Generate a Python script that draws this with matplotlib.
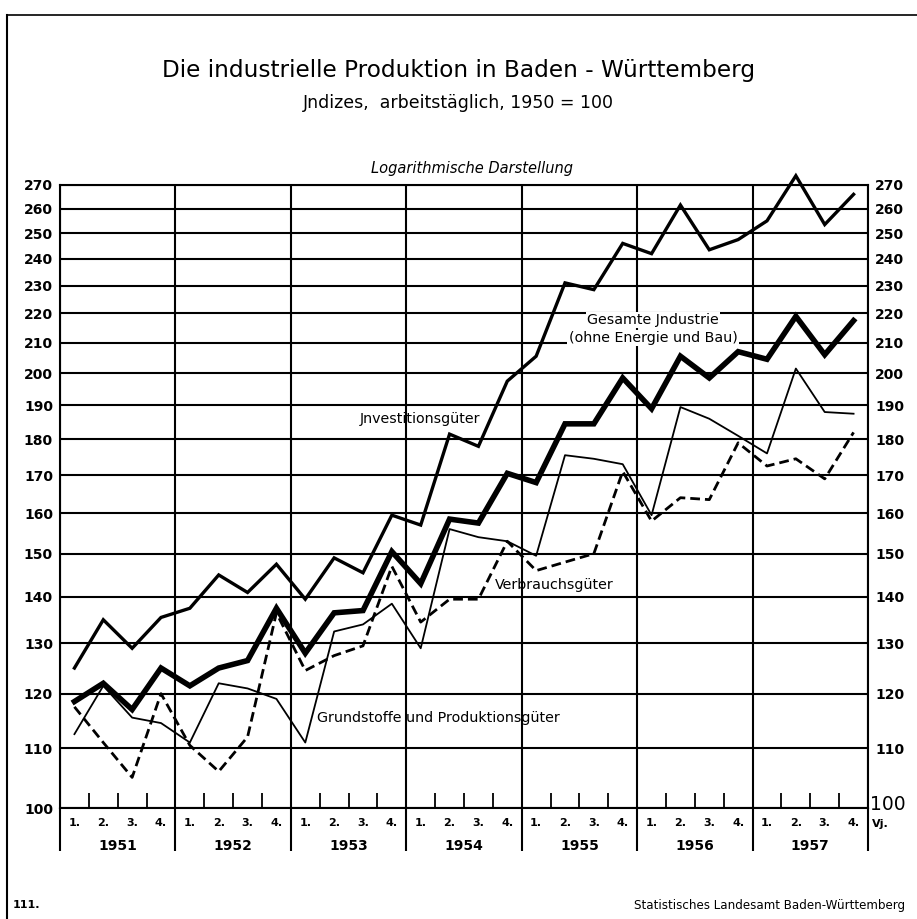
import numpy as np
import matplotlib.pyplot as plt
import matplotlib.transforms as mtransforms
from matplotlib.ticker import FixedLocator, NullFormatter

years = ['1951', '1952', '1953', '1954', '1955', '1956', '1957']
quarters = ['1.', '2.', '3.', '4.']
yticks = [100, 110, 120, 130, 140, 150, 160, 170, 180, 190, 200, 210, 220, 230, 240, 250, 260, 270]

# quarterly index values, 1951 Q1 .. 1957 Q4
gesamt = [118.5, 122, 117, 125, 121.5, 125, 126.5, 137.5, 128, 136.5, 137, 150.5, 143, 158.5,
          157.5, 170.5, 168, 184.5, 184.5, 198.5, 189, 205.5, 198.5, 207, 204.5, 219, 206, 217.5]
invest = [125, 135, 129, 135.5, 137.5, 145, 141, 147.5, 139.5, 149, 145.5, 159.5, 157, 181.5,
          178, 197.5, 205.5, 231, 228.5, 246, 242, 261.5, 243.5, 247.5, 255, 274, 253.5, 266]
grund = [112.5, 121.5, 115.5, 114.5, 111, 122, 121, 119, 111, 132.5, 134, 138.5, 129, 156,
         154, 153, 149.5, 175.5, 174.5, 173, 159.5, 189.5, 186, 181, 176, 201.5, 188, 187.5]
verbr = [117.5, 111, 105, 120, 110.5, 106, 112, 136.5, 124.5, 127.5, 129.5, 147, 134.5, 139.5,
         139.5, 153, 146, 148, 150, 171, 158, 164, 163.5, 179, 172.5, 174.5, 169, 182]

plt.rcParams['font.family'] = 'DejaVu Sans'

fig = plt.figure(figsize=(9.17, 9.19), dpi=100)
ax = fig.add_axes([60/917, 1-808/919, 808/917, 623/919])

nq = len(years)*4
x = np.arange(nq) + 0.5

ax.plot(x, invest, color='black', lw=2.4, clip_on=False, solid_joinstyle='miter', zorder=4)
ax.plot(x, gesamt, color='black', lw=4.0, clip_on=False, solid_joinstyle='miter', zorder=5)
ax.plot(x, grund, color='black', lw=1.3, clip_on=False, zorder=4)
ax.plot(x, verbr, color='black', lw=2.0, dashes=(3.5, 1.8), clip_on=False, zorder=4)

ax.set_yscale('log')
ax.set_ylim(100, 270)
ax.set_xlim(0, nq)

ax.yaxis.set_major_locator(FixedLocator(yticks))
ax.yaxis.set_minor_locator(FixedLocator([]))
ax.yaxis.set_minor_formatter(NullFormatter())
ax.set_yticklabels([str(v) for v in yticks])
ax.tick_params(axis='y', length=0, labelsize=10, labelright=True, pad=5)
for t in ax.yaxis.get_major_ticks():
    t.label1.set_fontweight('bold')
    t.label2.set_fontweight('bold')
# the right-hand "100" is larger and sits a bit higher, as in the original
ax.yaxis.get_major_ticks()[0].label2.set_visible(False)
trans_y = mtransforms.blended_transform_factory(ax.transAxes, ax.transData)
shift = mtransforms.ScaledTranslation(0, 4/100, fig.dpi_scale_trans)
ax.text(1.003, yticks[0], str(yticks[0]), transform=trans_y + shift, ha='left', va='center',
        fontsize=13.5, clip_on=False)

# year boundaries as major ticks (extend below axis), quarter ticks as minor
ax.set_xticks(np.arange(0, nq+1, 4))
ax.set_xticklabels([])
ax.set_xticks([q for q in range(nq) if q % 4 != 0], minor=True)
ax.tick_params(axis='x', which='major', direction='out', length=31, width=1.5)
ax.tick_params(axis='x', which='minor', direction='in', length=11, width=1.3)

ax.grid(True, which='major', axis='both', color='black', lw=1.5)
for s in ax.spines.values():
    s.set_linewidth(1.5)

trans = mtransforms.blended_transform_factory(ax.transData, ax.transAxes)
for i, yr in enumerate(years):
    ax.text(i*4+2, -0.061, yr, transform=trans, ha='center', va='center',
            fontsize=10, fontweight='bold')
    for j, q in enumerate(quarters):
        ax.text(i*4+j+0.5, -0.024, q, transform=trans, ha='center', va='center',
                fontsize=8, fontweight='bold')
ax.text(nq+0.15, -0.026, 'Vj.', transform=trans, ha='left', va='center',
        fontsize=8, fontweight='bold')

# series labels
ax.text(12.49, 185.9, 'Jnvestitionsgüter', ha='center', va='center', fontsize=10.3, zorder=6)
ax.text(17.12, 142.7, 'Verbrauchsgüter', ha='center', va='center', fontsize=10.3, zorder=6)
ax.text(13.1, 115.4, 'Grundstoffe und Produktionsgüter', ha='center', va='center', fontsize=10.3, zorder=6)
wb = dict(facecolor='white', edgecolor='none', pad=0.8)
ax.text(20.55, 217.7, 'Gesamte Jndustrie', ha='center', va='center', fontsize=10.3, zorder=6, bbox=wb)
ax.text(20.55, 211.6, '(ohne Energie und Bau)', ha='center', va='center', fontsize=10.3, zorder=6, bbox=wb)

# titles
fig.text(0.5, 1-70/919, 'Die industrielle Produktion in Baden - Württemberg',
         ha='center', va='center', fontsize=16.7)
fig.text(0.5, 1-103/919, 'Jndizes,  arbeitstäglich, 1950 = 100',
         ha='center', va='center', fontsize=12.5)
fig.text(472/917, 1-168/919, 'Logarithmische Darstellung',
         ha='center', va='center', fontsize=10.5, style='italic')
fig.text(13/917, 1-905/919, '111.', ha='left', va='center', fontsize=8, fontweight='bold')
fig.text(905/917, 1-905/919, 'Statistisches Landesamt Baden-Württemberg',
         ha='right', va='center', fontsize=8.6)

# page frame (top and left edge)
fig.add_artist(plt.Line2D([7/917, 1], [1-15/919, 1-15/919], color='black', lw=1.2))
fig.add_artist(plt.Line2D([7/917, 7/917], [0, 1-15/919], color='black', lw=1.5))

fig.savefig('out.png', dpi=100)
